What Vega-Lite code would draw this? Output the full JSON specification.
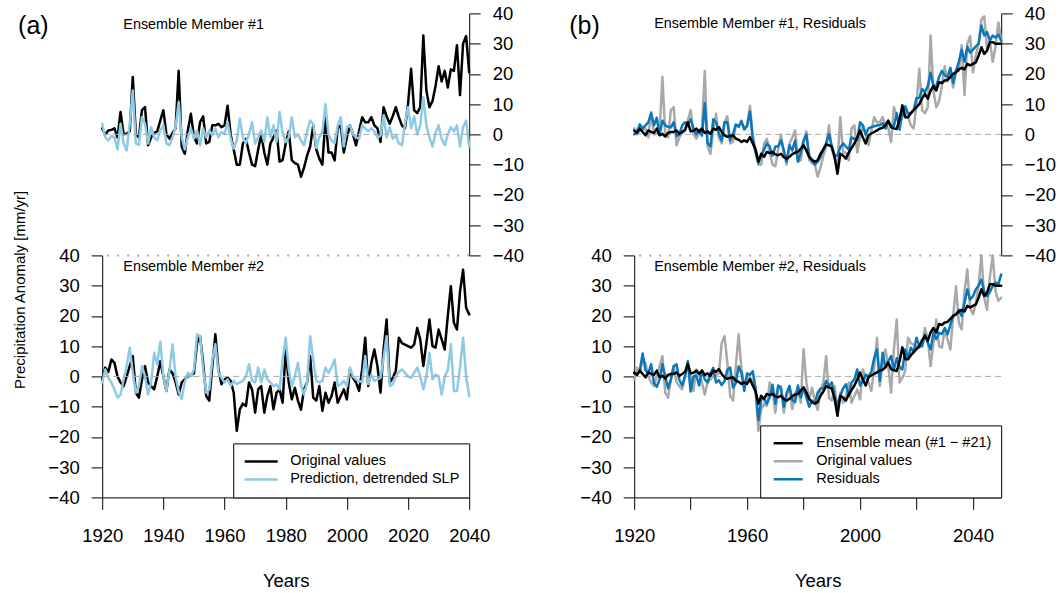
{
  "$schema": "https://vega.github.io/schema/vega-lite/v6.json",
  "padding": {"left": 11.2, "top": 4.4, "right": 0, "bottom": 0},
  "background": "white",
  "config": {
    "view": {"stroke": null},
    "font": "Liberation Sans",
    "axis": {"grid": false, "domainColor": "black", "tickColor": "black", "labelColor": "black", "titleColor": "black", "labelFont": "Liberation Sans", "titleFont": "Liberation Sans", "labelFontSize": 18.5, "titleFontSize": 18.5, "titleFontWeight": "normal", "labelOverlap": false, "labelFlush": false, "labelBound": false, "domainWidth": 1, "tickWidth": 1},
    "axisY": {"tickCount": 9, "values": [-40,-30,-20,-10,0,10,20,30,40]},
    "legend": {"strokeWidth": 1, "labelLimit": 400},
    "text": {"font": "Liberation Sans", "color": "black"}
  },
  "datasets": {
    "d": [
      {"year":1920,"o1":2,"p1":3.5,"o2":-1,"p2":-2,"r1":0,"r2":1,"m":1.3},
      {"year":1921,"o1":0,"p1":-1,"o2":2.9,"p2":2.3,"r1":1,"r2":0.6,"m":0.5},
      {"year":1922,"o1":1.3,"p1":-2,"o2":1.5,"p2":-0.5,"r1":3.3,"r2":2,"m":1.9},
      {"year":1923,"o1":1.5,"p1":-0.5,"o2":5.6,"p2":-2,"r1":2,"r2":7.6,"m":0.8},
      {"year":1924,"o1":2,"p1":-1,"o2":4.5,"p2":-4.3,"r1":3,"r2":2,"m":-0.3},
      {"year":1925,"o1":-1,"p1":-5,"o2":0,"p2":-7,"r1":4,"r2":1,"m":1.3},
      {"year":1926,"o1":7.4,"p1":3.5,"o2":-2,"p2":-6,"r1":7,"r2":4,"m":0.8},
      {"year":1927,"o1":0,"p1":-3,"o2":-3.2,"p2":-1,"r1":3,"r2":-2.2,"m":0.5},
      {"year":1928,"o1":0.2,"p1":-5.3,"o2":0,"p2":3.4,"r1":5.5,"r2":-3.4,"m":1.9},
      {"year":1929,"o1":1,"p1":3.5,"o2":3.4,"p2":9.5,"r1":0,"r2":-1,"m":-0.3},
      {"year":1930,"o1":19,"p1":14.5,"o2":6.7,"p2":1.2,"r1":4.5,"r2":4,"m":0.2},
      {"year":1931,"o1":0,"p1":-3,"o2":-5.4,"p2":-5.4,"r1":3,"r2":0,"m":-0.7},
      {"year":1932,"o1":-1,"p1":-3.5,"o2":-7,"p2":-3.2,"r1":2.5,"r2":-4,"m":0.5},
      {"year":1933,"o1":8,"p1":5.7,"o2":-1,"p2":3.4,"r1":2.3,"r2":-1,"m":0.8},
      {"year":1934,"o1":9,"p1":3.5,"o2":3.4,"p2":0,"r1":4,"r2":3.4,"m":0.8},
      {"year":1935,"o1":-3.6,"p1":-3,"o2":-2,"p2":-6,"r1":-0.6,"r2":4,"m":1.3},
      {"year":1936,"o1":-1,"p1":2.4,"o2":-3.2,"p2":-2,"r1":0,"r2":-1.2,"m":0.2},
      {"year":1937,"o1":0.5,"p1":-1,"o2":-4.3,"p2":7.8,"r1":3,"r2":-3,"m":0.8},
      {"year":1938,"o1":1,"p1":-2,"o2":0,"p2":4,"r1":4,"r2":0,"m":1.5},
      {"year":1939,"o1":4.6,"p1":1.3,"o2":5,"p2":11.5,"r1":3.3,"r2":5,"m":4},
      {"year":1940,"o1":8,"p1":3,"o2":0,"p2":0,"r1":5,"r2":-5,"m":1},
      {"year":1941,"o1":0,"p1":-3,"o2":-4.8,"p2":-4.8,"r1":2,"r2":0,"m":1.2},
      {"year":1942,"o1":-1.4,"p1":-3.6,"o2":2.3,"p2":2,"r1":0,"r2":0.3,"m":1.9},
      {"year":1943,"o1":0.5,"p1":-1,"o2":1,"p2":10.6,"r1":1.5,"r2":-3,"m":0.8},
      {"year":1944,"o1":2,"p1":2.4,"o2":-2,"p2":0,"r1":-0.4,"r2":2,"m":1.9},
      {"year":1945,"o1":21,"p1":10.7,"o2":-6,"p2":-5,"r1":10.3,"r2":-1,"m":0.5},
      {"year":1946,"o1":-4,"p1":-1,"o2":-2,"p2":-7.5,"r1":-3,"r2":-2,"m":1},
      {"year":1947,"o1":-6.4,"p1":-5,"o2":-1,"p2":-2,"r1":-4,"r2":1,"m":0.2},
      {"year":1948,"o1":1.3,"p1":-1,"o2":0,"p2":1.2,"r1":5,"r2":2.8,"m":1.9},
      {"year":1949,"o1":6.8,"p1":2,"o2":0.5,"p2":0,"r1":4,"r2":-2,"m":1.5},
      {"year":1950,"o1":-1,"p1":-1.4,"o2":1,"p2":2.3,"r1":0.4,"r2":-1.3,"m":2.4},
      {"year":1951,"o1":-3,"p1":1.3,"o2":11,"p2":13.9,"r1":-2,"r2":-2.9,"m":0.8},
      {"year":1952,"o1":4,"p1":-3.6,"o2":13.3,"p2":13.3,"r1":4,"r2":-1.5,"m":-0.3},
      {"year":1953,"o1":6,"p1":2,"o2":4.5,"p2":2.3,"r1":4,"r2":2.2,"m":-0.8},
      {"year":1954,"o1":-3,"p1":-1,"o2":-6.5,"p2":-5.4,"r1":-2,"r2":2.9,"m":-0.5},
      {"year":1955,"o1":-2.5,"p1":1.3,"o2":-8,"p2":-4.3,"r1":0,"r2":-3.7,"m":-0.3},
      {"year":1956,"o1":3,"p1":-0.3,"o2":3.4,"p2":5.6,"r1":3.3,"r2":-2.2,"m":-1.4},
      {"year":1957,"o1":3,"p1":2,"o2":13.9,"p2":10.6,"r1":2.5,"r2":3.3,"m":-1.8},
      {"year":1958,"o1":3.5,"p1":-1,"o2":2.3,"p2":1.2,"r1":4.5,"r2":1.1,"m":-2.5},
      {"year":1959,"o1":2.4,"p1":0.8,"o2":-2.6,"p2":-0.5,"r1":1.6,"r2":-4.8,"m":-2},
      {"year":1960,"o1":3,"p1":0.2,"o2":-1,"p2":-2,"r1":2.8,"r2":1,"m":-2.5},
      {"year":1961,"o1":9.5,"p1":4,"o2":-0.5,"p2":-1,"r1":7.5,"r2":0.5,"m":-0.9},
      {"year":1962,"o1":0,"p1":-1.4,"o2":-1.5,"p2":-3.2,"r1":-1.5,"r2":1.7,"m":-3},
      {"year":1963,"o1":-5,"p1":-4.7,"o2":-5.4,"p2":-1.5,"r1":-6,"r2":-3.9,"m":-5},
      {"year":1964,"o1":-10,"p1":-2,"o2":-18,"p2":-2.6,"r1":-9.5,"r2":-14.5,"m":-9},
      {"year":1965,"o1":-10,"p1":5.2,"o2":-10.9,"p2":-2,"r1":-7,"r2":-7.5,"m":-6.4},
      {"year":1966,"o1":-3,"p1":-1,"o2":-9,"p2":-1.5,"r1":-5,"r2":-7.5,"m":-7.4},
      {"year":1967,"o1":-1.5,"p1":-3,"o2":-9.8,"p2":0,"r1":-3,"r2":-9,"m":-5.8},
      {"year":1968,"o1":-6,"p1":0.2,"o2":-2,"p2":4,"r1":-4,"r2":-7,"m":-6.2},
      {"year":1969,"o1":-10,"p1":4,"o2":-4.3,"p2":-1.5,"r1":-7,"r2":-2.8,"m":-5.8},
      {"year":1970,"o1":-10.5,"p1":-3,"o2":-12,"p2":-2,"r1":-4,"r2":-9,"m":-6.6},
      {"year":1971,"o1":-5,"p1":-1,"o2":-4.3,"p2":2.9,"r1":-4,"r2":-3,"m":-6.9},
      {"year":1972,"o1":0,"p1":1.3,"o2":-3.2,"p2":-2,"r1":-2,"r2":-4,"m":-6.4},
      {"year":1973,"o1":-6,"p1":-2.5,"o2":-12,"p2":2.3,"r1":-5.3,"r2":-10,"m":-7.5},
      {"year":1974,"o1":-10,"p1":5.7,"o2":-6.5,"p2":-1,"r1":-9,"r2":-5.5,"m":-8},
      {"year":1975,"o1":-3,"p1":-1,"o2":-3.2,"p2":-2,"r1":-3.6,"r2":-3.2,"m":-7.4},
      {"year":1976,"o1":-1,"p1":3,"o2":-10.9,"p2":-3.2,"r1":-5.3,"r2":-7.7,"m":-6.5},
      {"year":1977,"o1":1.3,"p1":-2.5,"o2":-5.4,"p2":-2.6,"r1":-2,"r2":-8.5,"m":-6},
      {"year":1978,"o1":-9,"p1":7.4,"o2":-4.3,"p2":-4.3,"r1":-9,"r2":-3,"m":-5.8},
      {"year":1979,"o1":-8.5,"p1":0.2,"o2":-8.7,"p2":5.6,"r1":-6,"r2":-7,"m":-4.7},
      {"year":1980,"o1":-3,"p1":-2.5,"o2":9,"p2":12.8,"r1":-2,"r2":-3.8,"m":-3.6},
      {"year":1981,"o1":1,"p1":-1,"o2":-2,"p2":2.3,"r1":0,"r2":-7,"m":-5.3},
      {"year":1982,"o1":-8.5,"p1":5.7,"o2":-7.6,"p2":-3.2,"r1":-7,"r2":-10,"m":-7.5},
      {"year":1983,"o1":-9.5,"p1":-1,"o2":-3.8,"p2":0,"r1":-8.5,"r2":-8,"m":-8.5},
      {"year":1984,"o1":-10,"p1":0,"o2":-8,"p2":4.5,"r1":-10,"r2":-9,"m":-9},
      {"year":1985,"o1":-14,"p1":-2,"o2":-11,"p2":-3,"r1":-9,"r2":-5.4,"m":-8.5},
      {"year":1986,"o1":-11,"p1":-3.6,"o2":-4.3,"p2":-6,"r1":-7.4,"r2":-4,"m":-6.4},
      {"year":1987,"o1":-7,"p1":1,"o2":-2,"p2":-2,"r1":-5,"r2":-4,"m":-5},
      {"year":1988,"o1":-4,"p1":4.6,"o2":6.7,"p2":13.3,"r1":-3,"r2":-1.5,"m":-3.3},
      {"year":1989,"o1":3,"p1":3.5,"o2":-7,"p2":5.6,"r1":0,"r2":-3.2,"m":-3.6},
      {"year":1990,"o1":-5,"p1":-4.5,"o2":-8,"p2":-1.5,"r1":-4,"r2":-2,"m":-4},
      {"year":1991,"o1":-8,"p1":-1,"o2":-3.2,"p2":-2,"r1":-7,"r2":-6.5,"m":-7.5},
      {"year":1992,"o1":-10,"p1":1,"o2":-11.4,"p2":-1.5,"r1":-7,"r2":-9.5,"m":-13},
      {"year":1993,"o1":5.7,"p1":10,"o2":-5.4,"p2":2.9,"r1":-4.3,"r2":-6.5,"m":-6.4},
      {"year":1994,"o1":-6,"p1":0,"o2":-8.7,"p2":1.2,"r1":-3,"r2":-4,"m":-7},
      {"year":1995,"o1":-6,"p1":-2,"o2":-6.5,"p2":3,"r1":-4,"r2":-2.6,"m":-8},
      {"year":1996,"o1":-8.6,"p1":-3,"o2":-2,"p2":5.6,"r1":-5,"r2":-6.5,"m":-6},
      {"year":1997,"o1":2,"p1":3,"o2":-8.7,"p2":-3.2,"r1":-1,"r2":-2,"m":-4.5},
      {"year":1998,"o1":3,"p1":5.7,"o2":-6.5,"p2":-2.6,"r1":-1.5,"r2":-1,"m":-3},
      {"year":1999,"o1":-6,"p1":-4,"o2":-4.3,"p2":-1.5,"r1":-2,"r2":2.3,"m":-1},
      {"year":2000,"o1":-1,"p1":2.4,"o2":-7.6,"p2":-3.2,"r1":4,"r2":-3,"m":1.3},
      {"year":2001,"o1":3,"p1":3,"o2":2.3,"p2":2.9,"r1":3,"r2":-1.5,"m":-1},
      {"year":2002,"o1":0,"p1":0,"o2":-0.5,"p2":0,"r1":0,"r2":0.5,"m":-3},
      {"year":2003,"o1":-3.6,"p1":-1,"o2":-2,"p2":-1,"r1":2,"r2":0,"m":-0.3},
      {"year":2004,"o1":1,"p1":-1.4,"o2":-4.8,"p2":-1.5,"r1":2.4,"r2":1.5,"m":0.3},
      {"year":2005,"o1":5.7,"p1":3,"o2":2.3,"p2":-2,"r1":2.7,"r2":6,"m":0.8},
      {"year":2006,"o1":4,"p1":2,"o2":12.8,"p2":6.7,"r1":3,"r2":8.9,"m":1.3},
      {"year":2007,"o1":4,"p1":1,"o2":-3.2,"p2":-2.6,"r1":3,"r2":-1.5,"m":1.9},
      {"year":2008,"o1":5.7,"p1":2,"o2":4.5,"p2":0.6,"r1":3.7,"r2":7.8,"m":2.2},
      {"year":2009,"o1":3,"p1":1,"o2":8.9,"p2":-1.5,"r1":2,"r2":3,"m":3},
      {"year":2010,"o1":2,"p1":-1,"o2":3.4,"p2":-1,"r1":4,"r2":5,"m":4.6},
      {"year":2011,"o1":-2.5,"p1":-0.5,"o2":-5.4,"p2":-0.5,"r1":3,"r2":6.7,"m":2.4},
      {"year":2012,"o1":9,"p1":6.3,"o2":8.9,"p2":6,"r1":2.7,"r2":2.3,"m":2},
      {"year":2013,"o1":6,"p1":-1,"o2":18.8,"p2":13.3,"r1":7,"r2":6,"m":1.8},
      {"year":2014,"o1":3.5,"p1":2.4,"o2":-2,"p2":-3.2,"r1":1.5,"r2":3,"m":5},
      {"year":2015,"o1":6,"p1":-1.4,"o2":-0.5,"p2":-2.6,"r1":7.4,"r2":2.3,"m":9.6},
      {"year":2016,"o1":9,"p1":-0.3,"o2":1.8,"p2":0,"r1":9.3,"r2":8.9,"m":5.7},
      {"year":2017,"o1":5.7,"p1":-3,"o2":12.8,"p2":1.5,"r1":7,"r2":6,"m":5.7},
      {"year":2018,"o1":3,"p1":-3.6,"o2":11,"p2":2.3,"r1":7,"r2":9.5,"m":7},
      {"year":2019,"o1":2,"p1":3.5,"o2":10.5,"p2":1.2,"r1":8,"r2":8,"m":8},
      {"year":2020,"o1":10,"p1":9,"o2":10,"p2":0,"r1":12,"r2":12.8,"m":9},
      {"year":2021,"o1":21.7,"p1":2,"o2":9.5,"p2":-0.5,"r1":12,"r2":10,"m":10},
      {"year":2022,"o1":8,"p1":6,"o2":10.5,"p2":1.2,"r1":15,"r2":10,"m":12},
      {"year":2023,"o1":7,"p1":0,"o2":16,"p2":2.9,"r1":14,"r2":13.9,"m":13.4},
      {"year":2024,"o1":9,"p1":3,"o2":12.2,"p2":0,"r1":16,"r2":11,"m":11.8},
      {"year":2025,"o1":32.7,"p1":12.3,"o2":3.4,"p2":-4.3,"r1":20.4,"r2":8.9,"m":14.5},
      {"year":2026,"o1":14.5,"p1":3,"o2":11,"p2":0,"r1":16,"r2":14.4,"m":16},
      {"year":2027,"o1":9,"p1":-1,"o2":18.8,"p2":7.8,"r1":16,"r2":12.3,"m":14.5},
      {"year":2028,"o1":11,"p1":-4,"o2":10,"p2":-1,"r1":19,"r2":14.4,"m":17.3},
      {"year":2029,"o1":16,"p1":0.5,"o2":9.5,"p2":0.6,"r1":21,"r2":14,"m":17},
      {"year":2030,"o1":22.5,"p1":3,"o2":15.5,"p2":0,"r1":19.5,"r2":16,"m":17.8},
      {"year":2031,"o1":17.5,"p1":-1.5,"o2":12.2,"p2":-6,"r1":19,"r2":13.9,"m":18},
      {"year":2032,"o1":21,"p1":-3.6,"o2":8.9,"p2":0,"r1":22,"r2":17,"m":19},
      {"year":2033,"o1":15.5,"p1":0,"o2":20,"p2":2,"r1":17,"r2":20,"m":20},
      {"year":2034,"o1":21.5,"p1":2.4,"o2":29.8,"p2":10.6,"r1":21,"r2":20.5,"m":20.5},
      {"year":2035,"o1":21,"p1":1,"o2":17.7,"p2":-4.8,"r1":24,"r2":22,"m":21.5},
      {"year":2036,"o1":29.5,"p1":3,"o2":15.5,"p2":-4.8,"r1":28,"r2":20,"m":22},
      {"year":2037,"o1":13,"p1":-4,"o2":28,"p2":3,"r1":24,"r2":24.3,"m":21.5},
      {"year":2038,"o1":30,"p1":2.4,"o2":35.3,"p2":12.8,"r1":29,"r2":28.7,"m":23.3},
      {"year":2039,"o1":32.5,"p1":4.6,"o2":22.7,"p2":0,"r1":27,"r2":25.4,"m":22.8},
      {"year":2040,"o1":20.5,"p1":-4,"o2":20.5,"p2":-6.5,"r1":28,"r2":26.5,"m":23.3},
      {"year":2041,"o1":26,"o2":24,"r1":29,"r2":28.7,"m":23.8},
      {"year":2042,"o1":30,"o2":30,"r1":30,"r2":30,"m":26},
      {"year":2043,"o1":38,"o2":40,"r1":36,"r2":32,"m":28.8},
      {"year":2044,"o1":39,"o2":26,"r1":32.7,"r2":28,"m":26.6},
      {"year":2045,"o1":28,"o2":22,"r1":33.8,"r2":26.5,"m":27.7},
      {"year":2046,"o1":31,"o2":33,"r1":31,"r2":28,"m":30.5},
      {"year":2047,"o1":24,"o2":40,"r1":32.7,"r2":29.8,"m":30.5},
      {"year":2048,"o1":29,"o2":28,"r1":32,"r2":31,"m":30},
      {"year":2049,"o1":37,"o2":25,"r1":33,"r2":30.5,"m":30},
      {"year":2050,"o1":31,"o2":26,"r1":31,"r2":33.7,"m":30}
    ]
  },
  "spacing": 532,
  "bounds": "flush",
  "resolve": {"scale": {"color": "independent"}, "legend": {"color": "independent"}},
  "hconcat": [
    {
      "spacing": 0,
      "bounds": "flush",
      "resolve": {"scale": {"color": "independent"}, "legend": {"color": "independent"}},
      "vconcat": [
        {
          "width": 367, "height": 242,
          "layer": [
            {"data": {"name": "d"}, "transform": [{"filter": "datum.year <= 2040"}],
             "mark": {"type": "line", "strokeWidth": 2.5, "strokeJoin": "round", "strokeCap": "round"},
             "encoding": {
               "x": {"field": "year", "type": "quantitative", "title": null, "scale": {"domain": [1920, 2040], "nice": false, "zero": false}, "axis": null},
               "y": {"field": "o1", "type": "quantitative", "title": null, "scale": {"domain": [-40, 40], "nice": false, "zero": false}, "axis": {"orient": "right", "values": [-40,-30,-20,-10,0,10,20,30,40], "tickCount": 9, "tickSize": 11, "labelPadding": 12, "labelOverlap": false}},
               "color": {"datum": "Original values", "type": "nominal", "scale": {"domain": ["Original values", "Prediction, detrended SLP"], "range": ["#000000", "#8ECAE6"]}, "legend": null}
             }},
            {"data": {"name": "d"}, "transform": [{"filter": "datum.year <= 2040"}],
             "mark": {"type": "line", "strokeWidth": 2.5, "strokeJoin": "round", "strokeCap": "round"},
             "encoding": {
               "x": {"field": "year", "type": "quantitative", "title": null, "scale": {"domain": [1920, 2040], "nice": false, "zero": false}, "axis": null},
               "y": {"field": "p1", "type": "quantitative", "title": null, "scale": {"domain": [-40, 40], "nice": false, "zero": false}, "axis": {"orient": "right", "values": [-40,-30,-20,-10,0,10,20,30,40], "tickCount": 9, "tickSize": 11, "labelPadding": 12, "labelOverlap": false}},
               "color": {"datum": "Prediction, detrended SLP", "type": "nominal", "scale": {"domain": ["Original values", "Prediction, detrended SLP"], "range": ["#000000", "#8ECAE6"]}, "legend": null}
             }},
            {"data": {"values": [{}]}, "mark": {"type": "rule", "color": "#aaaaaa", "strokeDash": [6, 4], "strokeWidth": 1},
             "encoding": {"y": {"datum": 0, "type": "quantitative", "title": null, "scale": {"domain": [-40, 40], "nice": false, "zero": false}}}},
            {"data": {"values": [{}]}, "mark": {"type": "rule", "color": "#aaaaaa", "strokeDash": [2, 8], "strokeWidth": 2},
             "encoding": {"y": {"datum": -40, "type": "quantitative", "title": null, "scale": {"domain": [-40, 40], "nice": false, "zero": false}}}},
            {"data": {"values": [{}]}, "mark": {"type": "text", "text": "Ensemble Member #1", "align": "left", "baseline": "middle", "fontSize": 14.4},
             "encoding": {"x": {"datum": 1926.9, "type": "quantitative", "scale": {"domain": [1920, 2040], "nice": false, "zero": false}},
                          "y": {"datum": 36, "type": "quantitative", "scale": {"domain": [-40, 40], "nice": false, "zero": false}}}},
            {"data": {"values": [{}]}, "mark": {"type": "text", "text": "(a)", "align": "left", "baseline": "middle", "fontSize": 25},
             "encoding": {"x": {"datum": 1892.5, "type": "quantitative", "scale": {"domain": [1920, 2040], "nice": false, "zero": false}},
                          "y": {"datum": 35.7, "type": "quantitative", "scale": {"domain": [-40, 40], "nice": false, "zero": false}}}}
          ]
        },
        {
          "width": 367, "height": 242,
          "layer": [
            {"data": {"name": "d"}, "transform": [{"filter": "datum.year <= 2040"}],
             "mark": {"type": "line", "strokeWidth": 2.5, "strokeJoin": "round", "strokeCap": "round"},
             "encoding": {
               "x": {"field": "year", "type": "quantitative", "title": "Years", "scale": {"domain": [1920, 2040], "nice": false, "zero": false}, "axis": {"values": [1920,1925,1930,1935,1940,1945,1950,1955,1960,1965,1970,1975,1980,1985,1990,1995,2000,2005,2010,2015,2020,2025,2030,2035,2040], "format": "d", "labelExpr": "datum.value % 20 == 0 ? datum.label : ''", "tickSize": {"condition": {"test": "datum.value % 20 == 0", "value": 12}, "value": 7}, "labelPadding": 17, "labelOverlap": false, "titleY": 83, "titleBaseline": "middle"}},
               "y": {"field": "o2", "type": "quantitative", "title": "Precipitation Anomaly [mm/yr]", "scale": {"domain": [-40, 40], "nice": false, "zero": false}, "axis": {"orient": "left", "values": [-40,-30,-20,-10,0,10,20,30,40], "tickCount": 9, "tickSize": 11, "labelPadding": 12, "labelOverlap": false, "titleX": -83, "titleY": 34, "titleFontSize": 15, "titleBaseline": "middle", "titleAngle": -90, "titleAlign": "center"}},
               "color": {"datum": "Original values", "type": "nominal", "scale": {"domain": ["Original values", "Prediction, detrended SLP"], "range": ["#000000", "#8ECAE6"]},
                         "legend": {"title": null, "orient": "bottom-right", "offset": 0, "padding": 9, "strokeColor": "black", "fillColor": "white", "symbolType": "stroke", "symbolSize": 1089, "symbolStrokeWidth": 2.5, "symbolOffset": 1, "labelOffset": 11, "labelFontSize": 14.5, "labelFont": "Liberation Sans", "labelColor": "black", "clipHeight": 18, "rowPadding": 0, "cornerRadius": 0}}
             }},
            {"data": {"name": "d"}, "transform": [{"filter": "datum.year <= 2040"}],
             "mark": {"type": "line", "strokeWidth": 2.5, "strokeJoin": "round", "strokeCap": "round"},
             "encoding": {
               "x": {"field": "year", "type": "quantitative", "title": "Years", "scale": {"domain": [1920, 2040], "nice": false, "zero": false}, "axis": {"values": [1920,1925,1930,1935,1940,1945,1950,1955,1960,1965,1970,1975,1980,1985,1990,1995,2000,2005,2010,2015,2020,2025,2030,2035,2040], "format": "d", "labelExpr": "datum.value % 20 == 0 ? datum.label : ''", "tickSize": {"condition": {"test": "datum.value % 20 == 0", "value": 12}, "value": 7}, "labelPadding": 17, "labelOverlap": false, "titleY": 83, "titleBaseline": "middle"}},
               "y": {"field": "p2", "type": "quantitative", "title": "Precipitation Anomaly [mm/yr]", "scale": {"domain": [-40, 40], "nice": false, "zero": false}, "axis": {"orient": "left", "values": [-40,-30,-20,-10,0,10,20,30,40], "tickCount": 9, "tickSize": 11, "labelPadding": 12, "labelOverlap": false, "titleX": -83, "titleY": 34, "titleFontSize": 15, "titleBaseline": "middle", "titleAngle": -90, "titleAlign": "center"}},
               "color": {"datum": "Prediction, detrended SLP", "type": "nominal", "scale": {"domain": ["Original values", "Prediction, detrended SLP"], "range": ["#000000", "#8ECAE6"]},
                         "legend": {"title": null, "orient": "bottom-right", "offset": 0, "padding": 9, "strokeColor": "black", "fillColor": "white", "symbolType": "stroke", "symbolSize": 1089, "symbolStrokeWidth": 2.5, "symbolOffset": 1, "labelOffset": 11, "labelFontSize": 14.5, "labelFont": "Liberation Sans", "labelColor": "black", "clipHeight": 18, "rowPadding": 0, "cornerRadius": 0}}
             }},
            {"data": {"values": [{}]}, "mark": {"type": "rule", "color": "#aaaaaa", "strokeDash": [6, 4], "strokeWidth": 1},
             "encoding": {"y": {"datum": 0, "type": "quantitative", "title": "Precipitation Anomaly [mm/yr]", "scale": {"domain": [-40, 40], "nice": false, "zero": false}}}},
            {"data": {"values": [{}]}, "mark": {"type": "text", "text": "Ensemble Member #2", "align": "left", "baseline": "middle", "fontSize": 14.4},
             "encoding": {"x": {"datum": 1926.9, "type": "quantitative", "scale": {"domain": [1920, 2040], "nice": false, "zero": false}},
                          "y": {"datum": 36, "type": "quantitative", "scale": {"domain": [-40, 40], "nice": false, "zero": false}}}}
          ]
        }
      ]
    },
    {
      "spacing": 0,
      "bounds": "flush",
      "resolve": {"scale": {"color": "independent"}, "legend": {"color": "independent"}},
      "vconcat": [
        {
          "width": 367, "height": 242,
          "layer": [
            {"data": {"values": [{}]}, "mark": {"type": "rule", "color": "#aaaaaa", "strokeDash": [6, 4], "strokeWidth": 1},
             "encoding": {"y": {"datum": 0, "type": "quantitative", "title": null, "scale": {"domain": [-40, 40], "nice": false, "zero": false}, "axis": {"orient": "right", "values": [-40,-30,-20,-10,0,10,20,30,40], "tickCount": 9, "tickSize": 11, "labelPadding": 12, "labelOverlap": false}}}},
            {"data": {"values": [{}]}, "mark": {"type": "rule", "color": "#aaaaaa", "strokeDash": [2, 8], "strokeWidth": 2},
             "encoding": {"y": {"datum": -40, "type": "quantitative", "title": null, "scale": {"domain": [-40, 40], "nice": false, "zero": false}, "axis": {"orient": "right", "values": [-40,-30,-20,-10,0,10,20,30,40], "tickCount": 9, "tickSize": 11, "labelPadding": 12, "labelOverlap": false}}}},
            {"data": {"name": "d"},
             "mark": {"type": "line", "strokeWidth": 2.5, "strokeJoin": "round", "strokeCap": "round"},
             "encoding": {
               "x": {"field": "year", "type": "quantitative", "title": null, "scale": {"domain": [1920, 2050], "nice": false, "zero": false}, "axis": null},
               "y": {"field": "o1", "type": "quantitative", "title": null, "scale": {"domain": [-40, 40], "nice": false, "zero": false}, "axis": {"orient": "right", "values": [-40,-30,-20,-10,0,10,20,30,40], "tickCount": 9, "tickSize": 11, "labelPadding": 12, "labelOverlap": false}},
               "color": {"datum": "Original values", "type": "nominal", "scale": {"domain": ["Ensemble mean (#1 − #21)", "Original values", "Residuals"], "range": ["#000000", "#A9A9A9", "#0A77BA"]}, "legend": null}
             }},
            {"data": {"name": "d"},
             "mark": {"type": "line", "strokeWidth": 2.5, "strokeJoin": "round", "strokeCap": "round"},
             "encoding": {
               "x": {"field": "year", "type": "quantitative", "title": null, "scale": {"domain": [1920, 2050], "nice": false, "zero": false}, "axis": null},
               "y": {"field": "r1", "type": "quantitative", "title": null, "scale": {"domain": [-40, 40], "nice": false, "zero": false}, "axis": {"orient": "right", "values": [-40,-30,-20,-10,0,10,20,30,40], "tickCount": 9, "tickSize": 11, "labelPadding": 12, "labelOverlap": false}},
               "color": {"datum": "Residuals", "type": "nominal", "scale": {"domain": ["Ensemble mean (#1 − #21)", "Original values", "Residuals"], "range": ["#000000", "#A9A9A9", "#0A77BA"]}, "legend": null}
             }},
            {"data": {"name": "d"},
             "mark": {"type": "line", "strokeWidth": 2.5, "strokeJoin": "round", "strokeCap": "round"},
             "encoding": {
               "x": {"field": "year", "type": "quantitative", "title": null, "scale": {"domain": [1920, 2050], "nice": false, "zero": false}, "axis": null},
               "y": {"field": "m", "type": "quantitative", "title": null, "scale": {"domain": [-40, 40], "nice": false, "zero": false}, "axis": {"orient": "right", "values": [-40,-30,-20,-10,0,10,20,30,40], "tickCount": 9, "tickSize": 11, "labelPadding": 12, "labelOverlap": false}},
               "color": {"datum": "Ensemble mean (#1 − #21)", "type": "nominal", "scale": {"domain": ["Ensemble mean (#1 − #21)", "Original values", "Residuals"], "range": ["#000000", "#A9A9A9", "#0A77BA"]}, "legend": null}
             }},
            {"data": {"values": [{}]}, "mark": {"type": "text", "text": "Ensemble Member #1, Residuals", "align": "left", "baseline": "middle", "fontSize": 14.4},
             "encoding": {"x": {"datum": 1927.1, "type": "quantitative", "scale": {"domain": [1920, 2050], "nice": false, "zero": false}},
                          "y": {"datum": 36.4, "type": "quantitative", "scale": {"domain": [-40, 40], "nice": false, "zero": false}}}},
            {"data": {"values": [{}]}, "mark": {"type": "text", "text": "(b)", "align": "left", "baseline": "middle", "fontSize": 25},
             "encoding": {"x": {"datum": 1897, "type": "quantitative", "scale": {"domain": [1920, 2050], "nice": false, "zero": false}},
                          "y": {"datum": 35.7, "type": "quantitative", "scale": {"domain": [-40, 40], "nice": false, "zero": false}}}}
          ]
        },
        {
          "width": 367, "height": 242,
          "layer": [
            {"data": {"values": [{}]}, "mark": {"type": "rule", "color": "#aaaaaa", "strokeDash": [6, 4], "strokeWidth": 1},
             "encoding": {"y": {"datum": 0, "type": "quantitative", "title": null, "scale": {"domain": [-40, 40], "nice": false, "zero": false}, "axis": {"orient": "left", "values": [-40,-30,-20,-10,0,10,20,30,40], "tickCount": 9, "tickSize": 11, "labelPadding": 12, "labelOverlap": false}}}},
            {"data": {"name": "d"},
             "mark": {"type": "line", "strokeWidth": 2.5, "strokeJoin": "round", "strokeCap": "round"},
             "encoding": {
               "x": {"field": "year", "type": "quantitative", "title": "Years", "scale": {"domain": [1920, 2050], "nice": false, "zero": false}, "axis": {"values": [1920,1925,1930,1935,1940,1945,1950,1955,1960,1965,1970,1975,1980,1985,1990,1995,2000,2005,2010,2015,2020,2025,2030,2035,2040,2045,2050], "format": "d", "labelExpr": "datum.value % 40 == 0 ? datum.label : ''", "tickSize": {"condition": {"test": "datum.value % 20 == 0", "value": 12}, "value": 7}, "labelPadding": 17, "labelOverlap": false, "titleY": 83, "titleBaseline": "middle"}},
               "y": {"field": "o2", "type": "quantitative", "title": null, "scale": {"domain": [-40, 40], "nice": false, "zero": false}, "axis": {"orient": "left", "values": [-40,-30,-20,-10,0,10,20,30,40], "tickCount": 9, "tickSize": 11, "labelPadding": 12, "labelOverlap": false}},
               "color": {"datum": "Original values", "type": "nominal", "scale": {"domain": ["Ensemble mean (#1 − #21)", "Original values", "Residuals"], "range": ["#000000", "#A9A9A9", "#0A77BA"]},
                         "legend": {"title": null, "orient": "bottom-right", "offset": 0, "padding": 9, "strokeColor": "black", "fillColor": "white", "symbolType": "stroke", "symbolSize": 841, "symbolStrokeWidth": 2.5, "symbolOffset": 3, "labelOffset": 12, "labelFontSize": 14.5, "labelFont": "Liberation Sans", "labelColor": "black", "clipHeight": 17.5, "rowPadding": 0, "cornerRadius": 0}}
             }},
            {"data": {"name": "d"},
             "mark": {"type": "line", "strokeWidth": 2.5, "strokeJoin": "round", "strokeCap": "round"},
             "encoding": {
               "x": {"field": "year", "type": "quantitative", "title": "Years", "scale": {"domain": [1920, 2050], "nice": false, "zero": false}, "axis": {"values": [1920,1925,1930,1935,1940,1945,1950,1955,1960,1965,1970,1975,1980,1985,1990,1995,2000,2005,2010,2015,2020,2025,2030,2035,2040,2045,2050], "format": "d", "labelExpr": "datum.value % 40 == 0 ? datum.label : ''", "tickSize": {"condition": {"test": "datum.value % 20 == 0", "value": 12}, "value": 7}, "labelPadding": 17, "labelOverlap": false, "titleY": 83, "titleBaseline": "middle"}},
               "y": {"field": "r2", "type": "quantitative", "title": null, "scale": {"domain": [-40, 40], "nice": false, "zero": false}, "axis": {"orient": "left", "values": [-40,-30,-20,-10,0,10,20,30,40], "tickCount": 9, "tickSize": 11, "labelPadding": 12, "labelOverlap": false}},
               "color": {"datum": "Residuals", "type": "nominal", "scale": {"domain": ["Ensemble mean (#1 − #21)", "Original values", "Residuals"], "range": ["#000000", "#A9A9A9", "#0A77BA"]},
                         "legend": {"title": null, "orient": "bottom-right", "offset": 0, "padding": 9, "strokeColor": "black", "fillColor": "white", "symbolType": "stroke", "symbolSize": 841, "symbolStrokeWidth": 2.5, "symbolOffset": 3, "labelOffset": 12, "labelFontSize": 14.5, "labelFont": "Liberation Sans", "labelColor": "black", "clipHeight": 17.5, "rowPadding": 0, "cornerRadius": 0}}
             }},
            {"data": {"name": "d"},
             "mark": {"type": "line", "strokeWidth": 2.5, "strokeJoin": "round", "strokeCap": "round"},
             "encoding": {
               "x": {"field": "year", "type": "quantitative", "title": "Years", "scale": {"domain": [1920, 2050], "nice": false, "zero": false}, "axis": {"values": [1920,1925,1930,1935,1940,1945,1950,1955,1960,1965,1970,1975,1980,1985,1990,1995,2000,2005,2010,2015,2020,2025,2030,2035,2040,2045,2050], "format": "d", "labelExpr": "datum.value % 40 == 0 ? datum.label : ''", "tickSize": {"condition": {"test": "datum.value % 20 == 0", "value": 12}, "value": 7}, "labelPadding": 17, "labelOverlap": false, "titleY": 83, "titleBaseline": "middle"}},
               "y": {"field": "m", "type": "quantitative", "title": null, "scale": {"domain": [-40, 40], "nice": false, "zero": false}, "axis": {"orient": "left", "values": [-40,-30,-20,-10,0,10,20,30,40], "tickCount": 9, "tickSize": 11, "labelPadding": 12, "labelOverlap": false}},
               "color": {"datum": "Ensemble mean (#1 − #21)", "type": "nominal", "scale": {"domain": ["Ensemble mean (#1 − #21)", "Original values", "Residuals"], "range": ["#000000", "#A9A9A9", "#0A77BA"]},
                         "legend": {"title": null, "orient": "bottom-right", "offset": 0, "padding": 9, "strokeColor": "black", "fillColor": "white", "symbolType": "stroke", "symbolSize": 841, "symbolStrokeWidth": 2.5, "symbolOffset": 3, "labelOffset": 12, "labelFontSize": 14.5, "labelFont": "Liberation Sans", "labelColor": "black", "clipHeight": 17.5, "rowPadding": 0, "cornerRadius": 0}}
             }},
            {"data": {"values": [{}]}, "mark": {"type": "text", "text": "Ensemble Member #2, Residuals", "align": "left", "baseline": "middle", "fontSize": 14.4},
             "encoding": {"x": {"datum": 1927.1, "type": "quantitative", "scale": {"domain": [1920, 2050], "nice": false, "zero": false}},
                          "y": {"datum": 36, "type": "quantitative", "scale": {"domain": [-40, 40], "nice": false, "zero": false}}}}
          ]
        }
      ]
    }
  ]
}
